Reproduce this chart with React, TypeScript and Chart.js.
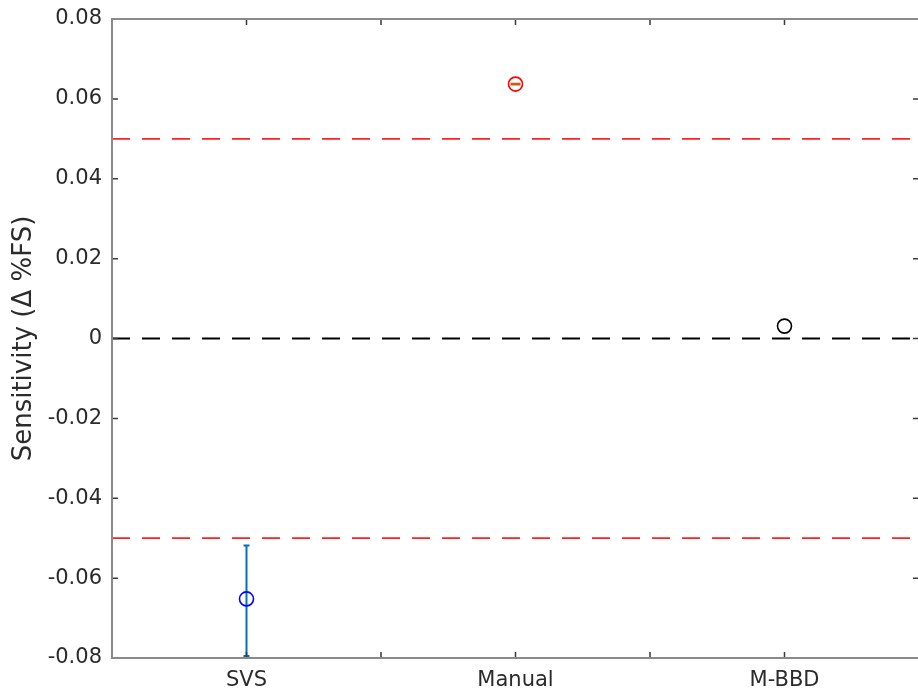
import React, { useEffect, useRef } from "react";
import { Chart, registerables } from "chart.js";

Chart.register(...registerables);

// ---- data ----
const categories = ["SVS", "Manual", "M-BBD"];
const categoryPositions = [1, 2, 3];
const meanValues = [-0.0652, 0.0637, 0.0031];
const lowerValues: (number | null)[] = [-0.0795, 0.0636, null];
const upperValues: (number | null)[] = [-0.0518, 0.0638, null];
const markerColors = ["#0000FF", "#FF0000", "#000000"];
const errorColors = ["#0072BD", "#D95319", "#EDB120"];
const errorCapHalf = [3, 5, 3];

const yTickValues = [-0.08, -0.06, -0.04, -0.02, 0, 0.02, 0.04, 0.06, 0.08];
const yTickLabels = ["-0.08", "-0.06", "-0.04", "-0.02", "0", "0.02", "0.04", "0.06", "0.08"];
const xTickPositions = [0.5, 1, 1.5, 2, 2.5, 3, 3.5];
const xMin = 0.5;
const xMax = 3.5;
const yMin = -0.08;
const yMax = 0.08;

const thresholdUpper = 0.05;
const thresholdLower = -0.05;
const zeroLine = 0;

const yTitle = "Sensitivity (Δ %FS)";

const FONT = "'DejaVu Sans', sans-serif";

const errorBarPlugin = {
  id: "errorBars",
  beforeDatasetsDraw(chart: any) {
    const { ctx, chartArea, scales } = chart;
    const xs = scales.x;
    const ys = scales.y;
    ctx.save();
    ctx.beginPath();
    ctx.rect(chartArea.left, chartArea.top, chartArea.right - chartArea.left, chartArea.bottom - chartArea.top);
    ctx.clip();
    for (let i = 0; i < categoryPositions.length; i++) {
      const lo = lowerValues[i];
      const hi = upperValues[i];
      if (lo == null || hi == null) continue;
      const x = xs.getPixelForValue(categoryPositions[i]);
      const yl = ys.getPixelForValue(lo);
      const yh = ys.getPixelForValue(hi);
      ctx.strokeStyle = errorColors[i];
      ctx.lineWidth = 2;
      ctx.beginPath();
      ctx.moveTo(x, yl);
      ctx.lineTo(x, yh);
      const c = errorCapHalf[i];
      ctx.moveTo(x - c, yl);
      ctx.lineTo(x + c, yl);
      ctx.moveTo(x - c, yh);
      ctx.lineTo(x + c, yh);
      ctx.stroke();
    }
    ctx.restore();
  },
};

const axesBoxPlugin = {
  id: "axesBox",
  afterDatasetsDraw(chart: any) {
    const { ctx, chartArea, scales } = chart;
    const xs = scales.x;
    const ys = scales.y;
    const { left, right, top, bottom } = chartArea;
    ctx.save();
    ctx.strokeStyle = "#3a3a3a";
    ctx.lineWidth = 1.5;
    const tl = 6;
    ctx.beginPath();
    for (const v of yTickValues) {
      const y = ys.getPixelForValue(v);
      ctx.moveTo(left, y);
      ctx.lineTo(left + tl, y);
      ctx.moveTo(right, y);
      ctx.lineTo(right - tl, y);
    }
    for (const v of xTickPositions) {
      const x = xs.getPixelForValue(v);
      ctx.moveTo(x, bottom);
      ctx.lineTo(x, bottom - tl);
      ctx.moveTo(x, top);
      ctx.lineTo(x, top + tl);
    }
    ctx.stroke();
    ctx.strokeStyle = "#8a8a8a";
    ctx.lineWidth = 2;
    ctx.strokeRect(left, top, right - left, bottom - top);
    ctx.restore();
  },
};

function hLine(value: number, color: string) {
  return {
    type: "scatter" as const,
    data: [
      { x: xMin, y: value },
      { x: xMax, y: value },
    ],
    showLine: true,
    borderColor: color,
    borderWidth: 1.8,
    borderDash: [18, 12],
    pointRadius: 0,
    fill: false,
  };
}

function zeroPadding(scale: any) {
  scale.paddingTop = 0;
  scale.paddingBottom = 0;
  scale.paddingLeft = 0;
  scale.paddingRight = 0;
}

export default function App() {
  const ref = useRef<HTMLCanvasElement | null>(null);

  useEffect(() => {
    document.body.style.margin = "0";
    const canvas = ref.current;
    if (!canvas) return;
    const pointSets = categoryPositions.map((pos, i) => ({
      type: "scatter" as const,
      data: [{ x: pos, y: meanValues[i] }],
      pointStyle: "circle",
      pointRadius: 7,
      pointBorderWidth: 1.6,
      pointBorderColor: markerColors[i],
      pointBackgroundColor: "rgba(0,0,0,0)",
      showLine: false,
    }));
    const chart = new Chart(canvas, {
      type: "scatter",
      data: {
        datasets: [
          hLine(thresholdUpper, "#FF2020"),
          hLine(thresholdLower, "#FF2020"),
          hLine(zeroLine, "#000000"),
          ...pointSets,
        ] as any,
      },
      options: {
        responsive: false,
        animation: false,
        events: [],
        layout: { autoPadding: false, padding: { top: 19, left: 0, right: 0, bottom: 0 } },
        plugins: {
          legend: { display: false },
          tooltip: { enabled: false },
        },
        scales: {
          x: {
            type: "linear",
            min: xMin,
            max: xMax,
            grid: { display: false, drawTicks: false },
            border: { display: false },
            afterBuildTicks: (scale: any) => {
              scale.ticks = categoryPositions.map((v) => ({ value: v }));
            },
            afterFit: (scale: any) => {
              scale.height = 38;
              zeroPadding(scale);
            },
            ticks: {
              autoSkip: false,
              maxRotation: 0,
              padding: 10,
              color: "#2b2b2b",
              font: { family: FONT, size: 21 },
              callback: (_v: any, index: number) => categories[index],
            },
          },
          y: {
            type: "linear",
            min: yMin,
            max: yMax,
            grid: { display: false, drawTicks: false },
            border: { display: false },
            afterBuildTicks: (scale: any) => {
              scale.ticks = yTickValues.map((v) => ({ value: v }));
            },
            afterFit: (scale: any) => {
              scale.width = 112;
              zeroPadding(scale);
            },
            ticks: {
              autoSkip: false,
              padding: 10,
              color: "#2b2b2b",
              font: { family: FONT, size: 21 },
              callback: (_v: any, index: number) => yTickLabels[index],
            },
            title: {
              display: true,
              text: yTitle,
              color: "#2b2b2b",
              font: { family: FONT, size: 26 },
              padding: { top: 9, bottom: 0 },
            },
          },
        },
      },
      plugins: [errorBarPlugin, axesBoxPlugin],
    } as any);
    return () => chart.destroy();
  }, []);

  return (
    <div style={{ position: "absolute", left: 0, top: 0, width: 918, height: 696, overflow: "hidden", background: "#fff" }}>
      <canvas ref={ref} width={919} height={696} style={{ display: "block" }} />
    </div>
  );
}
